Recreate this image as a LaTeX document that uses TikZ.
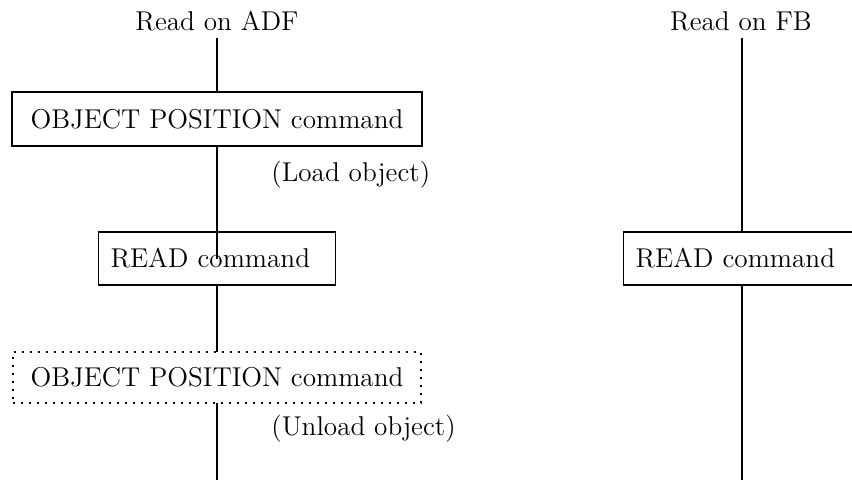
\documentclass[tikz,border=0pt]{standalone}
\usepackage{tikz}
\usetikzlibrary{positioning}

\begin{document}
\begin{tikzpicture}[x=0.5pt,y=-0.5pt,
  every node/.style={font=\fontsize{13.6}{16.3}\selectfont},
  cmdbox/.style={draw,line width=0.9pt,outer sep=0pt,minimum height=27pt},
  readbox/.style={cmdbox,minimum height=26.5pt,inner xsep=6pt,text width=106.5pt,align=left},
  dotbox/.style={cmdbox,dash pattern=on 0.9pt off 3.1pt},
  flow/.style={line width=0.9pt}]
\useasboundingbox (0,0) rectangle (852,479);

% read on ADF
\node[anchor=base] (adf) at (217,30) {Read on ADF};
\node[cmdbox,minimum width=205pt] (pos1) at (217,119) {OBJECT POSITION command};
\node[anchor=base west,inner sep=0pt] (load) at (271,181) {(Load object)};
\node[readbox] (read1) at (217,258.5) {READ command};
\node[dotbox,minimum width=204pt,minimum height=25.5pt] (pos2) at (217,377.5) {OBJECT POSITION command};
\node[anchor=base west,inner sep=0pt] (unload) at (271,435) {(Unload object)};
\coordinate (endL) at (217,480);

\draw[flow] (adf.south) -- (pos1.north);
\draw[flow] (pos1.south) -- (read1.center);
\draw[flow] (read1.south) -- (pos2.north);
\draw[flow] (pos2.south) -- (endL);

% read on FB
\node[anchor=base] (fb) at (741,30) {Read on FB};
\node[readbox] (read2) at (742,258.5) {READ command};
\coordinate (endR) at (742,480);

\draw[flow] (fb.south -| read2.north) -- (read2.north);
\draw[flow] (read2.south) -- (endR);
\end{tikzpicture}
\end{document}
